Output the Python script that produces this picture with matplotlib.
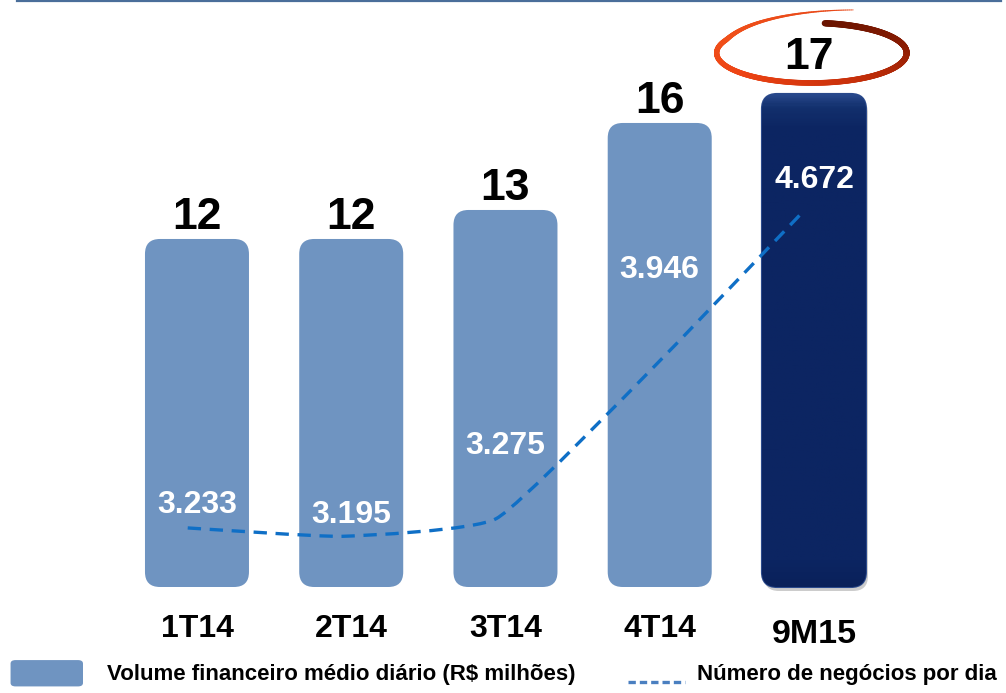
import numpy as np
import matplotlib
matplotlib.use('Agg')
import matplotlib.pyplot as plt
from matplotlib.patches import FancyBboxPatch
from matplotlib.path import Path
from matplotlib.patches import PathPatch
from matplotlib.collections import LineCollection
from matplotlib.colors import LinearSegmentedColormap
from matplotlib.lines import Line2D

plt.rcParams['font.family'] = ['Liberation Sans', 'DejaVu Sans']

# --- data ---
periods = ['1T14', '2T14', '3T14', '4T14', '9M15']
volume = [12, 12, 13, 16, 17]                 # R$ milhões / dia
deals = [3233, 3195, 3275, 3946, 4672]        # negócios por dia
deal_labels = ['3.233', '3.195', '3.275', '3.946', '4.672']
legend_bar = 'Volume financeiro médio diário (R$ milhões)'
legend_line = 'Número de negócios por dia'

# --- layout ---
label_lift = [23, 21, 73, 100, 30]   # px above the line point
light = '#6f94c1'
dark = '#0c2562'
line_blue = '#0f6fc6'

fig = plt.figure(figsize=(10.06, 6.93), dpi=100)
ax = fig.add_axes([0, 0, 1, 1])
ax.set_xlim(-1.277, 5.245)
ax.set_ylim(-3.655, 20.24)
ax.axis('off')
ax2 = ax.twinx()
ax2.set_ylim(2486, 5622)
ax2.axis('off')

# pixels per data unit (for rounded corners and offsets)
p0 = ax.transData.transform((0, 0))
p1 = ax.transData.transform((1, 1))
px_x, px_y = p1 - p0

w = 104 / px_x
r = 15 / px_x
x = np.arange(len(periods))

for i, v in enumerate(volume):
    last = i == len(volume) - 1
    if last:
        # soft shadow under the highlighted bar
        sh = FancyBboxPatch((i - w / 2 + 2 / px_x, -4 / px_y), w, v,
                            boxstyle=f'round,pad=0,rounding_size={r}',
                            mutation_aspect=px_x / px_y,
                            facecolor='#9a9a9a', edgecolor='none', alpha=0.5, zorder=1.5)
        ax.add_patch(sh)
    box = FancyBboxPatch((i - w / 2, 0), w, v,
                         boxstyle=f'round,pad=0,rounding_size={r}',
                         mutation_aspect=px_x / px_y,
                         facecolor=dark if last else light,
                         edgecolor='#2b4a8c' if last else 'none',
                         lw=1.5, zorder=2)
    ax.add_patch(box)
    if last:
        grad = np.linspace(0, 1, 300).reshape(-1, 1)
        cmap = LinearSegmentedColormap.from_list(
            'g', [(0, '#0a215a'), (0.05, '#0c2562'), (0.93, '#0c2562'),
                  (0.975, '#13306d'), (1, '#28488b')])
        im = ax.imshow(grad, extent=(i - w / 2, i + w / 2, 0, v), origin='lower',
                       cmap=cmap, aspect='auto', zorder=2.5)
        im.set_clip_path(box)
    else:
        ax.annotate(str(v), (i, v), xytext=(0, 7),
                    textcoords='offset points', ha='center', va='baseline',
                    fontsize=32, fontweight='bold', color='black', zorder=5)

    ax.annotate(periods[i], (i, 0), xytext=(0, -30 if not last else -34),
                textcoords='offset points', ha='center', va='center',
                fontsize=23 if not last else 24.5, fontweight='bold', color='black')

# restore limits after imshow
ax.set_xlim(-1.277, 5.245)
ax.set_ylim(-3.655, 20.24)

# --- dashed line, straight segments with slightly rounded corners ---
lx = x - 0.06
pts = np.column_stack([lx, deals]).astype(float)
ext = np.vstack([pts[0], pts, pts[-1]])
verts = [tuple(pts[0])]
codes = [Path.MOVETO]
for k in range(1, len(ext) - 2):
    P0, P1, P2, P3 = ext[k - 1], ext[k], ext[k + 1], ext[k + 2]
    c1 = P1 + (P2 - P0) / 14
    c2 = P2 - (P3 - P1) / 14
    verts += [tuple(c1), tuple(c2), tuple(P2)]
    codes += [Path.CURVE4] * 3
ax2.add_patch(PathPatch(Path(verts, codes), facecolor='none', edgecolor=line_blue,
                        lw=2.4, linestyle=(0, (4, 2.6)), zorder=3))

for i, (d, lab) in enumerate(zip(deals, deal_labels)):
    ax2.annotate(lab, (i, d), xytext=(0, label_lift[i] * 72 / 100),
                 textcoords='offset points', ha='center', va='center',
                 fontsize=23, fontweight='bold', color='white', zorder=6)

# --- highlight ellipse around the last value ---
last = len(volume) - 1
cx = last - 0.015
cy = volume[last] + 41 / px_y
a = 95 / px_x
b = 30 / px_y
ax.text(cx - 0.02, cy, str(volume[last]), ha='center', va='center_baseline',
        fontsize=32, fontweight='bold', color='black', zorder=5)
theta = np.radians(np.linspace(82, -287, 500))
s = np.linspace(0, 1, theta.size)
tail = np.clip((np.degrees(theta) + 205) / -82.0, 0, 1)
rad = 1 + 0.5 * tail ** 1.4
ex = cx + a * rad * np.cos(theta)
ey = cy + b * rad * np.sin(theta)
segs = np.stack([np.column_stack([ex[:-1], ey[:-1]]),
                 np.column_stack([ex[1:], ey[1:]])], axis=1)
widths = 4.6 - 1.2 * s[:-1] - 2.9 * tail[:-1]
red_cmap = LinearSegmentedColormap.from_list(
    'r', ['#6a1400', '#8c1c02', '#c8300a', '#ee4414', '#f0501a', '#e84818'])
lc = LineCollection(segs, linewidths=widths, colors=red_cmap(s[:-1]),
                    capstyle='round', zorder=4)
ax.add_collection(lc)

# --- top rule ---
fig.add_artist(Line2D([0.017, 0.995], [0.998, 0.998], color='#4a6e9a', lw=1.6))

# --- legend ---
fig.add_artist(FancyBboxPatch((0.0105, 0.0095), 0.072, 0.038,
                              boxstyle='round,pad=0,rounding_size=0.005',
                              facecolor=light, edgecolor='none',
                              transform=fig.transFigure))
fig.text(0.106, 0.026, legend_bar, fontsize=16, fontweight='bold',
         ha='left', va='center')
fig.add_artist(Line2D([0.624, 0.681], [0.016, 0.016], color='#4a7fc0', lw=2.4,
                      linestyle=(0, (2.2, 1.2))))
fig.text(0.693, 0.026, legend_line, fontsize=16, fontweight='bold',
         ha='left', va='center')

fig.savefig('out.png', dpi=100)
